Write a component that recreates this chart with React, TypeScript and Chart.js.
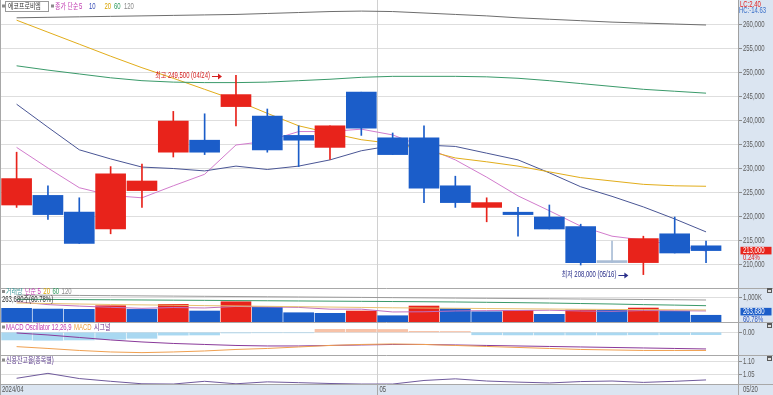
import React, { useEffect, useRef } from 'react';
import { Chart, registerables } from 'chart.js';
Chart.register(...registerables);

// ---------------- DATA ----------------
const stockName = '에코프로비엠';
const dates = ['04/15', '04/16', '04/17', '04/18', '04/19', '04/22', '04/23', '04/24', '04/25', '04/26', '04/29', '04/30', '05/02', '05/03', '05/07', '05/08', '05/09', '05/10', '05/13', '05/14', '05/16', '05/17', '05/20'];
const opens = [222500, 224500, 221000, 217500, 225500, 233500, 236000, 243000, 241000, 237000, 234500, 246000, 236500, 236500, 226500, 222000, 221000, 220000, 218000, 210500, 210500, 216500, 214000];
const closes = [228000, 220500, 214500, 229000, 227500, 240000, 233500, 245500, 234000, 236000, 239000, 238500, 233000, 226000, 223000, 223000, 220500, 217500, 210500, 210500, 215500, 212500, 213000];
const highs = [233500, 226500, 224000, 230500, 231000, 242000, 241500, 249500, 242500, 239000, 239000, 246000, 237500, 239000, 228500, 224000, 222000, 222500, 218500, 215000, 216000, 220000, 215000];
const lows = [222000, 219500, 214500, 216500, 222000, 232500, 233000, 239000, 233500, 230500, 232000, 237000, 233000, 223000, 222000, 219000, 216000, 217500, 210000, 210500, 208000, 212500, 210500];

const ma5 = [234500, 230200, 226100, 224500, 224000, 226500, 228900, 235000, 235800, 237800, 237800, 238300, 237100, 234600, 231900, 228300, 224400, 221300, 218100, 216000, 215200, 214200, 212900];
const ma10 = [243500, 238700, 234000, 232100, 230400, 230100, 229600, 230600, 229900, 230600, 231900, 233800, 234900, 235000, 234700, 233300, 231900, 229200, 226300, 224300, 222100, 219600, 216900];
const ma20 = [261000, 258500, 256000, 253500, 251100, 248900, 246600, 244300, 241600, 239000, 237500, 236100, 235300, 234000, 232300, 231500, 230600, 229400, 228200, 227500, 226800, 226500, 226400];
const ma60 = [251500, 250600, 249800, 249000, 248400, 248100, 248000, 248000, 248100, 248400, 248700, 249100, 249300, 249300, 249300, 249200, 248900, 248400, 247800, 247200, 246600, 246200, 245800];
const ma120 = [261500, 261600, 261700, 261800, 261900, 262000, 262100, 262200, 262400, 262600, 262800, 262900, 262800, 262500, 262200, 261900, 261500, 261200, 260900, 260600, 260400, 260200, 260000];

const volumes = [548000, 519000, 507000, 654000, 505000, 712000, 438000, 818000, 601000, 368000, 344000, 438000, 245000, 642000, 532000, 409000, 466000, 303000, 479000, 470000, 560000, 433830, 263680];
const volMa5 = [820000, 700000, 640000, 590000, 547000, 580000, 563000, 625000, 605000, 587000, 514000, 514000, 399000, 407000, 440000, 453000, 459000, 471000, 438000, 425000, 456000, 449000, 441000];
const volMa20 = [766000, 745000, 725000, 705000, 690000, 675000, 660000, 645000, 630000, 615000, 600000, 585000, 570000, 560000, 550000, 540000, 530000, 520000, 510000, 500000, 495000, 488000, 480000];
const volMa60 = [918000, 912000, 905000, 898000, 890000, 882000, 874000, 866000, 858000, 850000, 842000, 834000, 826000, 818000, 808000, 795000, 780000, 765000, 745000, 725000, 700000, 680000, 656000];
const volMa120 = [1094000, 1085000, 1076000, 1067000, 1058000, 1049000, 1040000, 1031000, 1022000, 1013000, 1004000, 995000, 986000, 977000, 968000, 959000, 950000, 940000, 930000, 920000, 910000, 900000, 889000];

const macdOsc = [-4600, -4800, -4600, -4200, -3600, -1700, -1600, -400, -300, -300, 1800, 1800, 1700, 600, 500, -1500, -1600, -1600, -1600, -1600, -1500, -1400, -1400];
const macdLine = [-8600, -9700, -10900, -11800, -12200, -11800, -11200, -10300, -9700, -8800, -7900, -7300, -7000, -7300, -7900, -8500, -9100, -9700, -10300, -10600, -10900, -10900, -10900];
const macdSignal = [-400, -1600, -3100, -4600, -5800, -6700, -7300, -7900, -8200, -8200, -7900, -7600, -7300, -7300, -7600, -7900, -8200, -8500, -8800, -9100, -9400, -9700, -10000];

const creditRatio = [1.038, 1.056, 1.037, 1.027, 1.018, 1.017, 1.027, 1.018, 1.025, 1.022, 1.019, 1.017, 1.017, 1.030, 1.036, 1.028, 1.024, 1.021, 1.026, 1.028, 1.023, 1.027, 1.032];

const priceTicks = [210000, 215000, 220000, 225000, 230000, 235000, 240000, 245000, 250000, 255000, 260000];
const volTicks = [1000000];
const macdTicks = [0];
const creditTicks = [1.05, 1.10];
const lcText = 'LC:2.40';
const hcText = 'HC:-14.63';
const monthBreakIndex = 12; // first trading day of May
const axisLabelFirst = '2024/04';
const axisLabelMonth = '05';

// ---------------- STYLE ----------------
const RED = '#e8231b';
const BLUE = '#1b5dc9';
const FLAT = '#a9bcd5';
const AXIS_BG = '#dbe5f1';
const FONT = "'Liberation Sans', 'Noto Sans CJK KR', sans-serif";
const W = 773;
const AXIS_W = 35;
const X_MIN = -0.53;
const X_MAX = 23.02;

const fmt = (v: number) => Math.round(v).toLocaleString('en-US');
const idx = dates.map((_, i) => i);
const candleColor = idx.map((i) => (closes[i] > opens[i] ? RED : closes[i] < opens[i] ? BLUE : FLAT));
const volColor = idx.map((i) => (i > 0 && volumes[i] > volumes[i - 1] ? RED : BLUE));

function txt(ctx: any, s: string, x: number, y: number, color: string, align: string = 'left', size = 8.5, sx = 0.7) {
  ctx.save();
  ctx.font = `${size}px ${FONT}`;
  ctx.fillStyle = color;
  ctx.textBaseline = 'middle';
  ctx.textAlign = align;
  ctx.translate(x, y);
  ctx.scale(sx, 1);
  ctx.fillText(s, 0, 0);
  const w = ctx.measureText(s).width * sx;
  ctx.restore();
  return w;
}

function seq(ctx: any, x: number, y: number, items: [string, string][], gap = 2.5) {
  let cx = x;
  for (const [s, c] of items) cx += txt(ctx, s, cx, y, c) + gap;
  return cx;
}

function yAxis(min: number, max: number, ticks: number[]) {
  return {
    type: 'linear',
    position: 'right',
    min,
    max,
    afterBuildTicks: (s: any) => {
      s.ticks = ticks.map((v) => ({ value: v }));
    },
    afterFit: (s: any) => {
      s.width = AXIS_W;
    },
    grid: { color: '#dedede', tickColor: '#8c8c8c', tickLength: 4, lineWidth: 1 },
    border: { display: true, color: '#a0a0a0' },
    ticks: { display: false },
  };
}

function baseOptions(y: any, padBottom = 0) {
  return {
    responsive: false,
    animation: false,
    devicePixelRatio: 1,
    events: [],
    layout: { autoPadding: false, padding: { left: 0, right: 0, top: 0, bottom: padBottom } },
    plugins: { legend: { display: false }, tooltip: { enabled: false } },
    scales: {
      x: { type: 'linear', min: X_MIN, max: X_MAX, display: false, offset: false, grid: { offset: false } },
      y,
    },
  };
}

const framePlugin = (topLine: boolean, label: (v: number) => string) => ({
  id: 'frame',
  beforeDraw(chart: any) {
    const { ctx, chartArea, width, height } = chart;
    ctx.save();
    ctx.fillStyle = '#ffffff';
    ctx.fillRect(0, 0, width, height);
    ctx.fillStyle = AXIS_BG;
    ctx.fillRect(chartArea.right, 0, width - chartArea.right, height);
    ctx.restore();
  },
  beforeDatasetsDraw(chart: any) {
    const { ctx, chartArea, scales } = chart;
    const x = Math.round(scales.x.getPixelForValue(monthBreakIndex - 0.5)) + 0.5;
    ctx.save();
    ctx.strokeStyle = '#d0d0d0';
    ctx.lineWidth = 1;
    ctx.beginPath();
    ctx.moveTo(x, chartArea.top);
    ctx.lineTo(x, chartArea.bottom);
    ctx.stroke();
    ctx.restore();
  },
  afterDraw(chart: any) {
    const { ctx, height, width, scales, chartArea } = chart;
    ctx.save();
    for (const t of scales.y.ticks) {
      txt(ctx, label(t.value), chartArea.right + 5, scales.y.getPixelForValue(t.value), '#5c5c5c');
    }
    ctx.strokeStyle = '#a8a8a8';
    ctx.lineWidth = 1;
    ctx.beginPath();
    ctx.moveTo(0.5, 0);
    ctx.lineTo(0.5, height);
    if (topLine) {
      ctx.moveTo(0, 0.5);
      ctx.lineTo(width, 0.5);
    }
    ctx.stroke();
    ctx.restore();
  },
});

function icon(ctx: any, x: number, y: number) {
  ctx.fillStyle = '#8a8a8a';
  ctx.fillRect(x, y - 2, 3, 3);
}

function winIcon(ctx: any, x: number, y: number) {
  ctx.fillStyle = '#5a5a5a';
  ctx.fillRect(x, y, 5, 5);
  ctx.fillStyle = '#dddddd';
  ctx.fillRect(x + 1, y + 2, 3, 2);
}

function arrow(ctx: any, x1: number, x2: number, y: number, color: string) {
  ctx.strokeStyle = color;
  ctx.fillStyle = color;
  ctx.lineWidth = 1;
  ctx.beginPath();
  ctx.moveTo(x1, y + 0.5);
  ctx.lineTo(x2 - 3, y + 0.5);
  ctx.stroke();
  ctx.beginPath();
  ctx.moveTo(x2, y + 0.5);
  ctx.lineTo(x2 - 4, y - 2.5);
  ctx.lineTo(x2 - 4, y + 3.5);
  ctx.closePath();
  ctx.fill();
}

function valueBox(ctx: any, yc: number, text: string, bg: string, sub: string, subColor: string) {
  ctx.fillStyle = bg;
  ctx.fillRect(740.5, yc - 3.8, 31, 7.6);
  txt(ctx, text, 743, yc + 0.3, '#ffffff');
  txt(ctx, sub, 743, yc + 7.5, subColor);
}

const mainText = {
  id: 'mainText',
  afterDraw(chart: any) {
    const { ctx, scales } = chart;
    const xs = scales.x;
    const ys = scales.y;
    ctx.save();
    icon(ctx, 2, 6.5);
    ctx.strokeStyle = '#9a9a9a';
    ctx.lineWidth = 1;
    ctx.strokeRect(5.5, 1.5, 43, 10);
    txt(ctx, stockName, 8, 6.8, '#333333');
    icon(ctx, 51, 6.5);
    txt(ctx, '종가 단순', 55, 6.8, '#c03cb0');
    txt(ctx, '5', 79, 6.8, '#c03cb0');
    txt(ctx, '10', 89, 6.8, '#3a4fb8');
    txt(ctx, '20', 104.5, 6.8, '#d9a400');
    txt(ctx, '60', 114, 6.8, '#2e9a5e');
    txt(ctx, '120', 124, 6.8, '#8a8a8a');
    txt(ctx, lcText, 740, 4.5, '#e02020');
    txt(ctx, hcText, 739, 10.5, '#3a6fc8');
    let hi = 0;
    let lo = 0;
    idx.forEach((i) => {
      if (highs[i] > highs[hi]) hi = i;
      if (lows[i] < lows[lo]) lo = i;
    });
    const hx = xs.getPixelForValue(hi) - 14;
    const hy = Math.round(ys.getPixelForValue(highs[hi])) + 1;
    txt(ctx, `최고 ${fmt(highs[hi])} (${dates[hi]})`, hx - 12, hy, '#d42020', 'right');
    arrow(ctx, hx - 10, hx, hy, '#d42020');
    const lx = xs.getPixelForValue(lo) - 15;
    const ly = Math.round(ys.getPixelForValue(lows[lo]));
    txt(ctx, `최저 ${fmt(lows[lo])} (${dates[lo]})`, lx - 12, ly, '#2a2f8a', 'right');
    arrow(ctx, lx - 10, lx, ly, '#2a2f8a');
    const last = closes.length - 1;
    const chg = ((closes[last] - closes[last - 1]) / closes[last - 1]) * 100;
    valueBox(ctx, ys.getPixelForValue(closes[last]), fmt(closes[last]), RED, `${chg.toFixed(2)}%`, '#e02020');
    ctx.restore();
  },
};

const volText = {
  id: 'volText',
  afterDraw(chart: any) {
    const { ctx, scales } = chart;
    ctx.save();
    icon(ctx, 2, 4);
    seq(ctx, 6, 4, [
      ['거래량', '#3f9a9a'],
      ['단순 5', '#c03cb0'],
      ['20', '#d9a400'],
      ['60', '#2e9a5e'],
      ['120', '#8a8a8a'],
    ]);
    const last = volumes.length - 1;
    const pct = ((volumes[last] / volumes[last - 1]) * 100).toFixed(2);
    txt(ctx, `${fmt(volumes[last])}주(${pct}%)`, 2, 11.3, '#333333');
    valueBox(ctx, scales.y.getPixelForValue(volumes[last]) - 3.6, fmt(volumes[last]), BLUE, `${pct}%`, '#2a55c0');
    winIcon(ctx, 767, 0);
    ctx.restore();
  },
};

const macdText = {
  id: 'macdText',
  afterDraw(chart: any) {
    const { ctx } = chart;
    ctx.save();
    icon(ctx, 2, 5.5);
    seq(ctx, 6, 5.5, [
      ['MACD Oscillator 12,26,9', '#c03cb0'],
      ['MACD', '#f0a040'],
      ['시그널', '#6a2a8a'],
    ]);
    winIcon(ctx, 767, 1);
    ctx.restore();
  },
};

const creditText = {
  id: 'creditText',
  afterDraw(chart: any) {
    const { ctx, chartArea, width, height, scales } = chart;
    ctx.save();
    icon(ctx, 2, 5.5);
    txt(ctx, '신용잔고율(종목별)', 6, 5.5, '#5a3a8a');
    winIcon(ctx, 767, 1);
    const top = chartArea.bottom;
    ctx.fillStyle = AXIS_BG;
    ctx.fillRect(0, top, width, height - top);
    ctx.strokeStyle = '#a8a8a8';
    ctx.lineWidth = 1;
    ctx.beginPath();
    ctx.moveTo(0, top + 0.5);
    ctx.lineTo(width, top + 0.5);
    ctx.moveTo(chartArea.right + 0.5, top);
    ctx.lineTo(chartArea.right + 0.5, height);
    const bx = Math.round(scales.x.getPixelForValue(monthBreakIndex - 0.5)) + 0.5;
    ctx.moveTo(bx, top);
    ctx.lineTo(bx, height);
    ctx.moveTo(0.5, top);
    ctx.lineTo(0.5, height);
    ctx.stroke();
    const yc = top + (height - top) / 2 + 0.5;
    txt(ctx, axisLabelFirst, 2, yc, '#555555');
    txt(ctx, axisLabelMonth, bx + 2, yc, '#555555');
    txt(ctx, dates[dates.length - 1], chartArea.right + 5, yc, '#555555');
    ctx.restore();
  },
};

function lineDs(data: number[], color: string, order = 3) {
  return {
    type: 'line',
    data: idx.map((i) => ({ x: i, y: data[i] })),
    borderColor: color,
    borderWidth: 1,
    pointRadius: 0,
    tension: 0,
    order,
  };
}

function mainConfig(): any {
  return {
    type: 'bar',
    data: {
      datasets: [
        lineDs(ma120, '#6e6e6e'),
        lineDs(ma60, '#3a9a6a'),
        lineDs(ma20, '#e2ad1a'),
        lineDs(ma10, '#4a5695'),
        lineDs(ma5, '#d27ccd'),
        {
          type: 'bar',
          data: idx.map((i) => ({ x: i, y: [lows[i], highs[i]] })),
          backgroundColor: candleColor,
          barThickness: 1,
          grouped: false,
          order: 1,
        },
        {
          type: 'bar',
          data: idx.map((i) => ({ x: i, y: [opens[i], closes[i]] })),
          backgroundColor: candleColor,
          barThickness: 30,
          minBarLength: 2,
          grouped: false,
          order: 0,
        },
      ],
    },
    options: baseOptions(yAxis(205208, 265208, priceTicks)),
    plugins: [framePlugin(false, fmt), mainText],
  };
}

function volConfig(): any {
  return {
    type: 'bar',
    data: {
      datasets: [
        {
          type: 'bar',
          data: idx.map((i) => ({ x: i, y: volumes[i] })),
          backgroundColor: volColor,
          barThickness: 30,
          grouped: false,
          order: 5,
        },
        lineDs(volMa120, '#9a9a9a', 1),
        lineDs(volMa60, '#3a9a6a', 1),
        lineDs(volMa20, '#e8c070', 1),
        lineDs(volMa5, '#c070c0', 1),
      ],
    },
    options: baseOptions(yAxis(-12300, 1381000, volTicks)),
    plugins: [framePlugin(true, (v) => `${fmt(v / 1000)}K`), volText],
  };
}

function macdConfig(): any {
  return {
    type: 'bar',
    data: {
      datasets: [
        {
          type: 'bar',
          data: idx.map((i) => ({ x: i, y: macdOsc[i] })),
          backgroundColor: idx.map((i) => (macdOsc[i] >= 0 ? '#f7c2a8' : '#a9d8f1')),
          barThickness: 30,
          grouped: false,
          order: 5,
        },
        lineDs(macdLine, '#f0a050', 1),
        lineDs(macdSignal, '#8a3a9a', 1),
      ],
    },
    options: baseOptions(yAxis(-13620, 6180, macdTicks)),
    plugins: [framePlugin(true, (v) => v.toFixed(2)), macdText],
  };
}

function creditConfig(): any {
  return {
    type: 'line',
    data: { datasets: [lineDs(creditRatio, '#6f5a9c', 1)] },
    options: baseOptions(yAxis(1.01715, 1.123, creditTicks), 11),
    plugins: [framePlugin(true, (v) => v.toFixed(2)), creditText],
  };
}

const panels = [
  { top: 0, h: 288, cfg: mainConfig },
  { top: 288, h: 34, cfg: volConfig },
  { top: 322, h: 33, cfg: macdConfig },
  { top: 355, h: 40, cfg: creditConfig },
];

export default function App() {
  const refs = [useRef<HTMLCanvasElement>(null), useRef<HTMLCanvasElement>(null), useRef<HTMLCanvasElement>(null), useRef<HTMLCanvasElement>(null)];
  useEffect(() => {
    document.body.style.margin = '0';
    const charts = panels.map((p, i) => new Chart(refs[i].current as HTMLCanvasElement, p.cfg()));
    return () => charts.forEach((c) => c.destroy());
  }, []);
  return (
    <div style={{ position: 'relative', width: W, height: 395, background: '#fff', overflow: 'hidden' }}>
      {panels.map((p, i) => (
        <canvas
          key={i}
          ref={refs[i]}
          width={W}
          height={p.h}
          style={{ position: 'absolute', left: 0, top: p.top, width: W, height: p.h }}
        />
      ))}
    </div>
  );
}
